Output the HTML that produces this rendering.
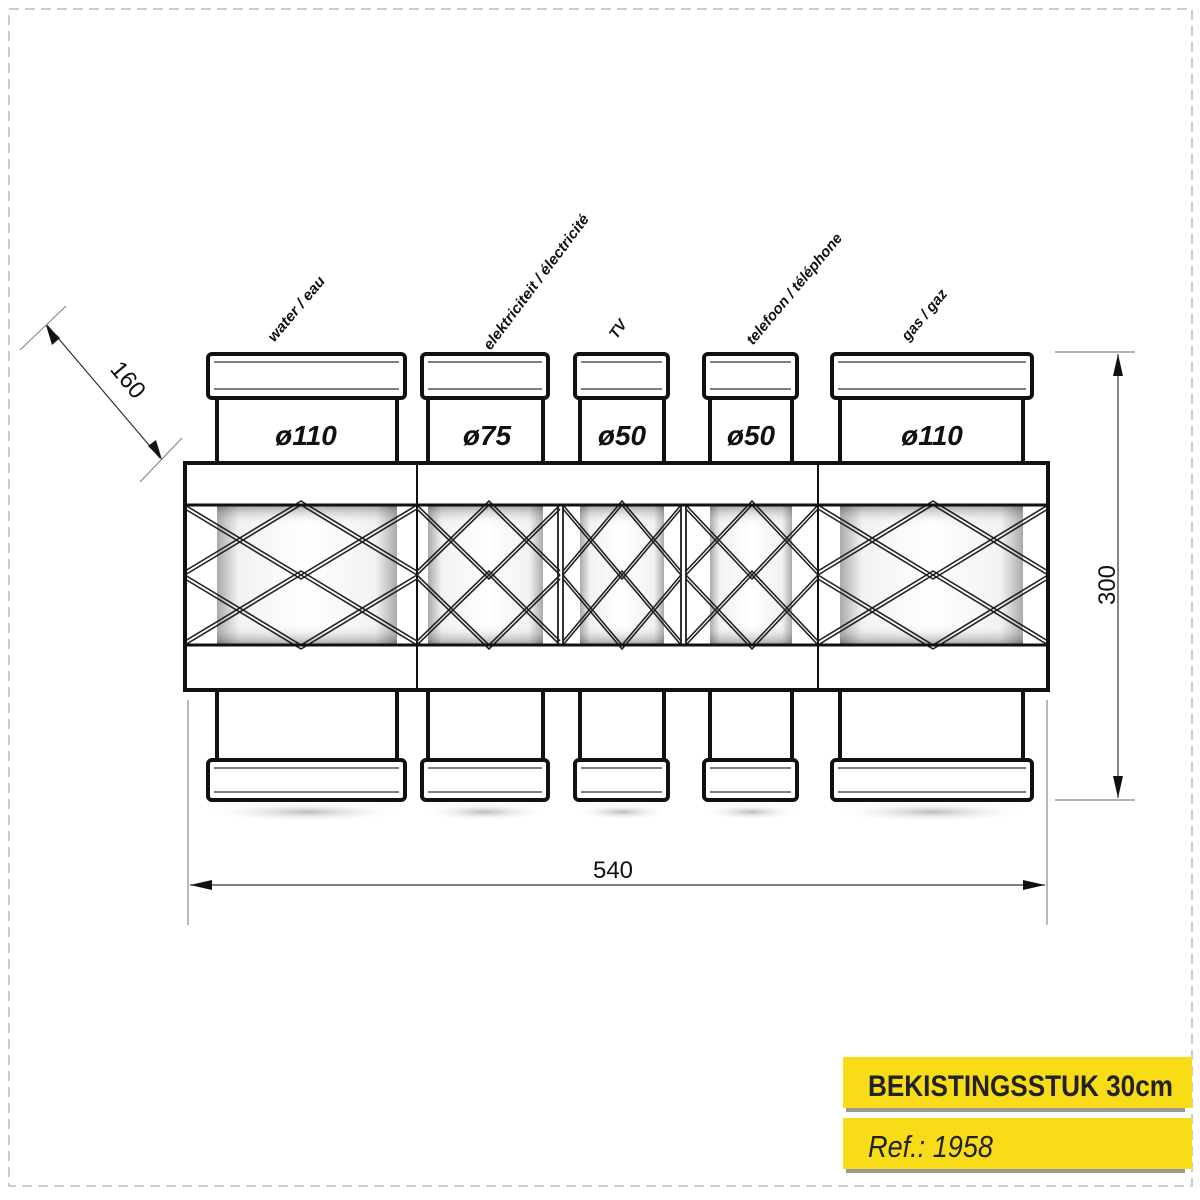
<!DOCTYPE html>
<html><head><meta charset="utf-8"><style>
html,body{margin:0;padding:0;background:#fff;}
svg{display:block;}
</style></head><body>
<svg width="1200" height="1200" viewBox="0 0 1200 1200" xmlns="http://www.w3.org/2000/svg" font-family="Liberation Sans, sans-serif">
<defs>
<linearGradient id="tube" x1="0" x2="1" y1="0" y2="0">
<stop offset="0" stop-color="#aaa"/><stop offset="0.12" stop-color="#f2f2f2"/><stop offset="0.5" stop-color="#fff"/><stop offset="0.88" stop-color="#f2f2f2"/><stop offset="1" stop-color="#aaa"/>
</linearGradient>
<linearGradient id="tubev" x1="0" x2="0" y1="0" y2="1">
<stop offset="0" stop-color="#000" stop-opacity="0.35"/><stop offset="0.15" stop-color="#fff" stop-opacity="0"/><stop offset="0.85" stop-color="#fff" stop-opacity="0"/><stop offset="1" stop-color="#000" stop-opacity="0.35"/>
</linearGradient>
<radialGradient id="shadow"><stop offset="0" stop-color="#bbb"/><stop offset="1" stop-color="#fff" stop-opacity="0"/></radialGradient>
</defs>
<rect x="9" y="9" width="1183" height="1177" fill="none" stroke="#ccc" stroke-width="2" stroke-dasharray="10,6"/>

<ellipse cx="306" cy="812" rx="100" ry="10" fill="url(#shadow)"/>
<ellipse cx="485" cy="812" rx="64" ry="9" fill="url(#shadow)"/>
<ellipse cx="622" cy="812" rx="48" ry="8" fill="url(#shadow)"/>
<ellipse cx="751" cy="812" rx="48" ry="8" fill="url(#shadow)"/>
<ellipse cx="932" cy="812" rx="100" ry="10" fill="url(#shadow)"/>

<g stroke="#111" stroke-width="4" fill="#fff">
<rect x="217" y="395" width="180" height="70"/>
<rect x="208" y="354" width="197" height="44" rx="4"/>
<rect x="428" y="395" width="115" height="70"/>
<rect x="422" y="354" width="126" height="44" rx="4"/>
<rect x="580" y="395" width="84" height="70"/>
<rect x="575" y="354" width="93" height="44" rx="4"/>
<rect x="710" y="395" width="82" height="70"/>
<rect x="704" y="354" width="93" height="44" rx="4"/>
<rect x="840" y="395" width="183" height="70"/>
<rect x="832" y="354" width="200" height="44" rx="4"/>
<rect x="217" y="688" width="180" height="74"/>
<rect x="208" y="760" width="197" height="40" rx="4"/>
<rect x="428" y="688" width="115" height="74"/>
<rect x="422" y="760" width="126" height="40" rx="4"/>
<rect x="580" y="688" width="84" height="74"/>
<rect x="575" y="760" width="93" height="40" rx="4"/>
<rect x="710" y="688" width="82" height="74"/>
<rect x="704" y="760" width="93" height="40" rx="4"/>
<rect x="840" y="688" width="183" height="74"/>
<rect x="832" y="760" width="200" height="40" rx="4"/>
</g>
<g stroke="#555" stroke-width="1.5">
<line x1="214" y1="362" x2="399" y2="362"/><line x1="214" y1="389" x2="399" y2="389"/>
<line x1="428" y1="362" x2="542" y2="362"/><line x1="428" y1="389" x2="542" y2="389"/>
<line x1="581" y1="362" x2="662" y2="362"/><line x1="581" y1="389" x2="662" y2="389"/>
<line x1="710" y1="362" x2="791" y2="362"/><line x1="710" y1="389" x2="791" y2="389"/>
<line x1="838" y1="362" x2="1026" y2="362"/><line x1="838" y1="389" x2="1026" y2="389"/>
<line x1="214" y1="768" x2="399" y2="768"/><line x1="214" y1="792" x2="399" y2="792"/>
<line x1="428" y1="768" x2="542" y2="768"/><line x1="428" y1="792" x2="542" y2="792"/>
<line x1="581" y1="768" x2="662" y2="768"/><line x1="581" y1="792" x2="662" y2="792"/>
<line x1="710" y1="768" x2="791" y2="768"/><line x1="710" y1="792" x2="791" y2="792"/>
<line x1="838" y1="768" x2="1026" y2="768"/><line x1="838" y1="792" x2="1026" y2="792"/>
</g>

<rect x="185" y="463" width="863" height="227" fill="#fff" stroke="#111" stroke-width="4"/>
<g>
<rect x="217" y="505" width="180" height="140" fill="url(#tube)"/>
<rect x="428" y="505" width="115" height="140" fill="url(#tube)"/>
<rect x="580" y="505" width="84" height="140" fill="url(#tube)"/>
<rect x="710" y="505" width="82" height="140" fill="url(#tube)"/>
<rect x="840" y="505" width="183" height="140" fill="url(#tube)"/>
<rect x="217" y="505" width="180" height="140" fill="url(#tubev)"/>
<rect x="428" y="505" width="115" height="140" fill="url(#tubev)"/>
<rect x="580" y="505" width="84" height="140" fill="url(#tubev)"/>
<rect x="710" y="505" width="82" height="140" fill="url(#tubev)"/>
<rect x="840" y="505" width="183" height="140" fill="url(#tubev)"/>
</g>
<g stroke="#111" stroke-width="3">
<line x1="417" y1="463" x2="417" y2="690" stroke-width="2"/>
<line x1="818" y1="463" x2="818" y2="690" stroke-width="2"/>
</g>
<g stroke="#333" stroke-width="2">
<line x1="558" y1="505" x2="558" y2="645"/><line x1="563" y1="505" x2="563" y2="645"/>
<line x1="681" y1="505" x2="681" y2="645"/><line x1="686" y1="505" x2="686" y2="645"/>
</g>
<g fill="none" stroke="#222" stroke-width="1.6">
<polyline points="185,505 301,575 417,505"/><polyline points="185,509 301,579 417,509"/>
<polyline points="185,575 301,505 417,575"/><polyline points="185,571 301,501 417,571"/>
<polyline points="185,575 301,645 417,575"/><polyline points="185,579 301,649 417,579"/>
<polyline points="185,645 301,575 417,645"/><polyline points="185,641 301,571 417,641"/>
<polyline points="417,505 489,575 560,505"/><polyline points="417,509 489,579 560,509"/>
<polyline points="417,575 489,505 560,575"/><polyline points="417,571 489,501 560,571"/>
<polyline points="417,575 489,645 560,575"/><polyline points="417,579 489,649 560,579"/>
<polyline points="417,645 489,575 560,645"/><polyline points="417,641 489,571 560,641"/>
<polyline points="563,505 622,575 681,505"/><polyline points="563,509 622,579 681,509"/>
<polyline points="563,575 622,505 681,575"/><polyline points="563,571 622,501 681,571"/>
<polyline points="563,575 622,645 681,575"/><polyline points="563,579 622,649 681,579"/>
<polyline points="563,645 622,575 681,645"/><polyline points="563,641 622,571 681,641"/>
<polyline points="686,505 752,575 818,505"/><polyline points="686,509 752,579 818,509"/>
<polyline points="686,575 752,505 818,575"/><polyline points="686,571 752,501 818,571"/>
<polyline points="686,575 752,645 818,575"/><polyline points="686,579 752,649 818,579"/>
<polyline points="686,645 752,575 818,645"/><polyline points="686,641 752,571 818,641"/>
<polyline points="818,505 933,575 1048,505"/><polyline points="818,509 933,579 1048,509"/>
<polyline points="818,575 933,505 1048,575"/><polyline points="818,571 933,501 1048,571"/>
<polyline points="818,575 933,645 1048,575"/><polyline points="818,579 933,649 1048,579"/>
<polyline points="818,645 933,575 1048,645"/><polyline points="818,641 933,571 1048,641"/>
</g>
<g stroke="#111" stroke-width="3" fill="none">
<line x1="185" y1="505" x2="1048" y2="505"/>
<line x1="185" y1="645" x2="1048" y2="645"/>
<rect x="185" y="463" width="863" height="227" stroke-width="4"/>
</g>

<g font-size="28" font-weight="bold" font-style="italic" fill="#111" text-anchor="middle">
<text x="306" y="445">ø110</text>
<text x="487" y="445">ø75</text>
<text x="622" y="445">ø50</text>
<text x="751" y="445">ø50</text>
<text x="932" y="445">ø110</text>
</g>

<g font-size="15" fill="#111" text-anchor="middle" font-style="italic" font-weight="bold">
<text transform="translate(300,312) rotate(-50)" textLength="80" lengthAdjust="spacingAndGlyphs">water / eau</text>
<text transform="translate(540,285) rotate(-53)" textLength="165" lengthAdjust="spacingAndGlyphs">elektriciteit / électricité</text>
<text transform="translate(622,332) rotate(-55)">TV</text>
<text transform="translate(798,292) rotate(-50)" textLength="140" lengthAdjust="spacingAndGlyphs">telefoon / téléphone</text>
<text transform="translate(928,318) rotate(-50)" textLength="62" lengthAdjust="spacingAndGlyphs">gas / gaz</text>
</g>

<g stroke="#888" stroke-width="1.2" fill="none">
<line x1="188" y1="700" x2="188" y2="925"/>
<line x1="1047" y1="700" x2="1047" y2="925"/>
<line x1="190" y1="885" x2="1045" y2="885" stroke="#333"/>
<line x1="1055" y1="352" x2="1135" y2="352"/>
<line x1="1055" y1="800" x2="1135" y2="800"/>
<line x1="1118" y1="354" x2="1118" y2="798" stroke="#333"/>
<line x1="20" y1="350" x2="66" y2="306"/>
<line x1="140" y1="482" x2="182" y2="438"/>
<line x1="47" y1="325" x2="160" y2="458" stroke="#333"/>
</g>
<g fill="#111">
<polygon points="190,885 212,880 212,890"/>
<polygon points="1045,885 1023,880 1023,890"/>
<polygon points="1118,354 1113,376 1123,376"/>
<polygon points="1118,798 1113,776 1123,776"/>
<polygon points="46,325 52,345 60,338"/>
<polygon points="162,460 148,446 156,440"/>
</g>
<g font-size="24" fill="#111" text-anchor="middle">
<text x="613" y="878">540</text>
<text transform="translate(1115,585) rotate(-90)">300</text>
<text transform="translate(122,385) rotate(50)">160</text>
</g>

<rect x="846" y="1061" width="339" height="51" fill="#999"/>
<rect x="843" y="1057" width="349" height="51" fill="#f9dc18"/>
<rect x="846" y="1122" width="339" height="51" fill="#999"/>
<rect x="843" y="1118" width="349" height="51" fill="#f9dc18"/>
<text x="868" y="1096" font-size="30" font-weight="bold" fill="#222" textLength="305" lengthAdjust="spacingAndGlyphs">BEKISTINGSSTUK 30cm</text>
<text x="868" y="1157" font-size="31" font-style="italic" fill="#222" textLength="125" lengthAdjust="spacingAndGlyphs">Ref.: 1958</text>
</svg>
</body></html>
